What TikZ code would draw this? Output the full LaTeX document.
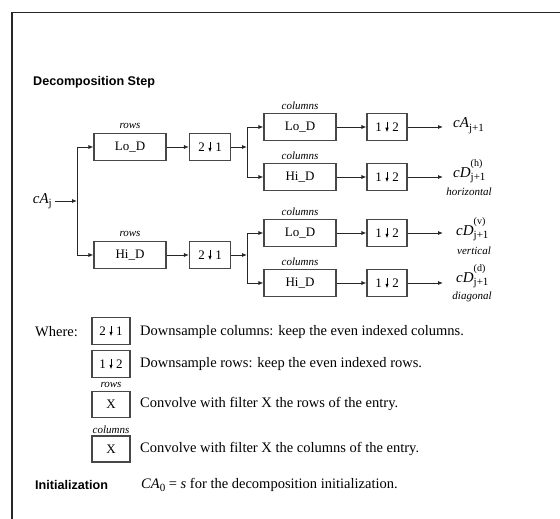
\documentclass[tikz,border=0pt]{standalone}
\usepackage{fontspec}
\setmainfont{Liberation Serif}
\newfontfamily\hsans{Liberation Sans}
\usetikzlibrary{arrows.meta}
\newcommand\dnarrow{\hspace{3.5pt}\tikz[baseline=0pt,x=1pt,y=1pt]\draw[line width=0.7pt,-{Latex[length=4.5pt,width=3.5pt]}](0,10)--(0,-0.5);\hspace{3.5pt}}
\newcommand\outlab[1]{\textit{cD}\makebox[0pt][l]{\raisebox{10.5pt}{\fontsize{10}{10}\selectfont(#1)}}\raisebox{-3.5pt}{\fontsize{11}{11}\selectfont j+1}}
\tikzset{
  box/.style={draw=black!72, line width=1.1pt, minimum width=72pt, minimum height=27pt, inner sep=0pt, font=\fontsize{13}{15}\selectfont},
  dsbox/.style={box, minimum width=41pt},
  lgbox/.style={box, minimum width=38pt, minimum height=27pt},
  lab/.style={font=\fontsize{11}{12}\selectfont\itshape, inner sep=0pt},
  outl/.style={font=\fontsize{15}{17}\selectfont, inner sep=0pt, anchor=base west},
  desc/.style={font=\fontsize{14.5}{16}\selectfont, inner sep=0pt, anchor=west},
  head/.style={font=\hsans\bfseries\fontsize{12.6}{14}\selectfont, inner sep=0pt, anchor=west},
  conn/.style={line width=0.8pt, black!85},
  arr/.style={conn, -{Latex[length=5pt,width=4pt]}},
}
\begin{document}
\begin{tikzpicture}[x=1pt,y=-1pt]
\useasboundingbox (0,0) rectangle (560,519);
% frame
\draw[line width=1.3pt, black!85] (12,519) -- (12,12.5) -- (560,12.5);

\node[head] (heading) at (33,82) {Decomposition Step};

% input
\node[anchor=east, inner sep=0pt, font=\fontsize{15}{17}\selectfont] (caj) at (52,201) {\textit{cA}\raisebox{-3.5pt}{\fontsize{11}{11}\selectfont j}};
\coordinate (b1) at (77,201);

% row filters
\node[box] (r1) at (130,147) {Lo\_D};
\node[lab] (r1l) at (130,126) {rows};
\node[box] (r2) at (130,255) {Hi\_D};
\node[lab] (r2l) at (130,234) {rows};

\node[dsbox] (d1) at (210,147) {2\dnarrow 1};
\node[dsbox] (d2) at (210,255) {2\dnarrow 1};

\coordinate (b2) at (247,147);
\coordinate (b3) at (247,255);

% column filters
\node[box] (c1) at (300,127) {Lo\_D};
\node[lab] (c1l) at (300,106) {columns};
\node[box] (c2) at (300,177) {Hi\_D};
\node[lab] (c2l) at (300,156) {columns};
\node[box] (c3) at (300,233) {Lo\_D};
\node[lab] (c3l) at (300,212) {columns};
\node[box] (c4) at (300,283) {Hi\_D};
\node[lab] (c4l) at (300,262) {columns};

\node[dsbox, minimum width=40pt] (e1) at (387,127) {1\dnarrow 2};
\node[dsbox, minimum width=40pt] (e2) at (387,177) {1\dnarrow 2};
\node[dsbox, minimum width=40pt] (e3) at (387,233) {1\dnarrow 2};
\node[dsbox, minimum width=40pt] (e4) at (387,283) {1\dnarrow 2};

\coordinate (t1) at (443,127);
\coordinate (t2) at (443,177);
\coordinate (t3) at (443,233);
\coordinate (t4) at (443,283);

% outputs
\node[outl] (o1) at (453,128) {\textit{cA}\raisebox{-3.5pt}{\fontsize{11}{11}\selectfont j+1}};
\node[outl] (o2) at (453,177) {\outlab{h}};
\node[lab] (o2l) at (469,192) {horizontal};
\node[outl] (o3) at (456,235) {\outlab{v}};
\node[lab] (o3l) at (474,251) {vertical};
\node[outl] (o4) at (456,282) {\outlab{d}};
\node[lab] (o4l) at (472,297) {diagonal};

% connectors
\draw[arr] (caj.east) ++(3,0) -- (b1);
\draw[arr] (b1) |- (r1.west);
\draw[arr] (b1) |- (r2.west);
\draw[arr] (r1) -- (d1);
\draw[arr] (r2) -- (d2);
\draw[arr] (d1) -- (b2);
\draw[arr] (d2) -- (b3);
\draw[arr] (b2) |- (c1.west);
\draw[arr] (b2) |- (c2.west);
\draw[arr] (b3) |- (c3.west);
\draw[arr] (b3) |- (c4.west);
\draw[arr] (c1) -- (e1);
\draw[arr] (c2) -- (e2);
\draw[arr] (c3) -- (e3);
\draw[arr] (c4) -- (e4);
\draw[arr] (e1) -- (t1);
\draw[arr] (e2) -- (t2);
\draw[arr] (e3) -- (t3);
\draw[arr] (e4) -- (t4);

% legend
\node[desc] (where) at (35,332) {Where:};
\node[lgbox] (l1) at (111,331) {2\dnarrow 1};
\node[desc] (l1t) at (140,332) {Downsample columns: keep the even indexed columns.};
\node[lgbox] (l2) at (111,364) {1\dnarrow 2};
\node[desc] (l2t) at (140,364) {Downsample rows: keep the even indexed rows.};
\node[lab] (l3l) at (111,385) {rows};
\node[lgbox, minimum height=26pt] (l3) at (111,404.5) {X};
\node[desc] (l3t) at (140,404) {Convolve with filter X the rows of the entry.};
\node[lab] (l4l) at (111,430) {columns};
\node[lgbox, minimum height=26pt] (l4) at (111,449) {X};
\node[desc] (l4t) at (140,449) {Convolve with filter X the columns of the entry.};

\node[head] (init) at (35,485) {Initialization};
\node[desc] (initt) at (141,485) {\textit{CA}\raisebox{-3pt}{\fontsize{11}{11}\selectfont 0} = \textit{s} for the decomposition initialization.};
\end{tikzpicture}
\end{document}
